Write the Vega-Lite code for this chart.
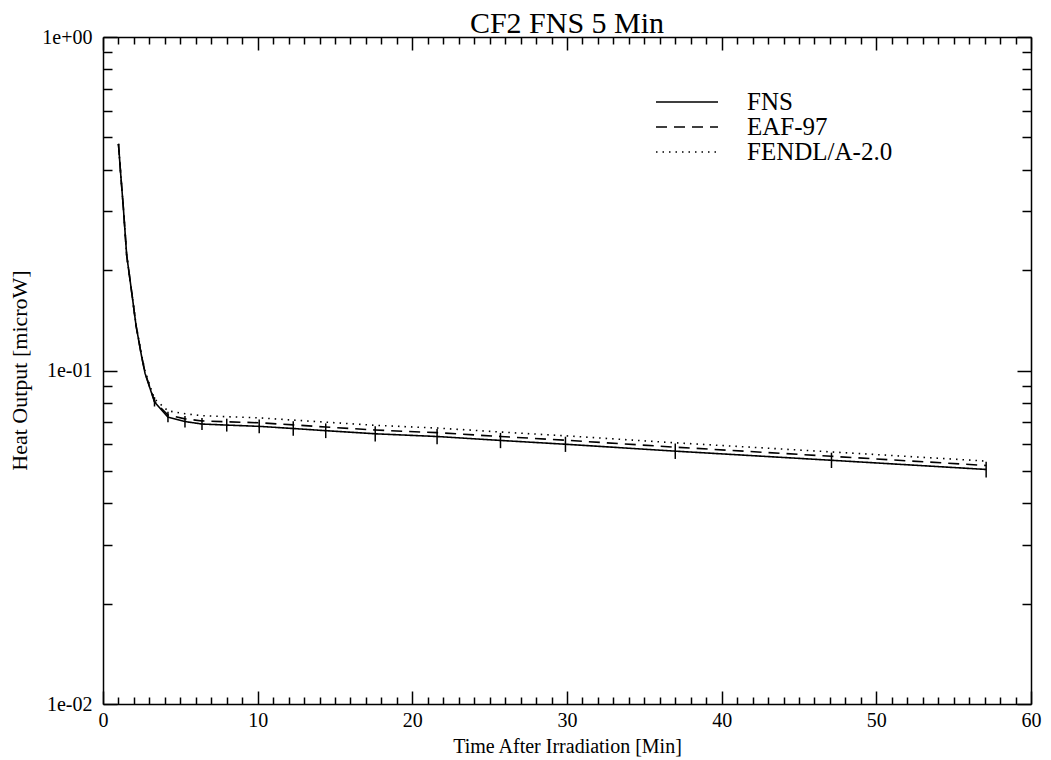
{
  "$schema": "https://vega.github.io/schema/vega-lite/v6.json",
  "width": 928,
  "height": 667,
  "autosize": {"type": "none"},
  "padding": {"left": 103, "top": 37, "right": 20, "bottom": 56},
  "background": "white",
  "title": {"text": "CF2 FNS 5 Min", "font": "Liberation Serif", "fontSize": 30, "fontWeight": "normal", "color": "black", "anchor": "middle", "frame": "group", "offset": 6, "dy": 18},
  "config": {"view": {"stroke": null}, "font": "Liberation Serif"},
  "datasets": {
    "curves": [
      {"t": 1.0, "v": 0.478, "series": "FNS"},
      {"t": 1.15, "v": 0.385, "series": "FNS"},
      {"t": 1.32, "v": 0.306, "series": "FNS"},
      {"t": 1.53, "v": 0.222, "series": "FNS"},
      {"t": 1.86, "v": 0.171, "series": "FNS"},
      {"t": 2.14, "v": 0.136, "series": "FNS"},
      {"t": 2.5, "v": 0.110, "series": "FNS"},
      {"t": 2.72, "v": 0.098, "series": "FNS"},
      {"t": 3.33, "v": 0.0805, "series": "FNS"},
      {"t": 4.2, "v": 0.0725, "series": "FNS"},
      {"t": 5.3, "v": 0.0703, "series": "FNS"},
      {"t": 6.4, "v": 0.0691, "series": "FNS"},
      {"t": 8.0, "v": 0.0686, "series": "FNS"},
      {"t": 10.1, "v": 0.0680, "series": "FNS"},
      {"t": 12.3, "v": 0.0670, "series": "FNS"},
      {"t": 14.4, "v": 0.0660, "series": "FNS"},
      {"t": 17.6, "v": 0.0646, "series": "FNS"},
      {"t": 21.6, "v": 0.0634, "series": "FNS"},
      {"t": 25.7, "v": 0.0617, "series": "FNS"},
      {"t": 29.9, "v": 0.0601, "series": "FNS"},
      {"t": 37.0, "v": 0.0573, "series": "FNS"},
      {"t": 47.1, "v": 0.0538, "series": "FNS"},
      {"t": 57.1, "v": 0.0505, "series": "FNS"},
      {"t": 1.0, "v": 0.478, "series": "EAF-97"},
      {"t": 1.15, "v": 0.385, "series": "EAF-97"},
      {"t": 1.32, "v": 0.306, "series": "EAF-97"},
      {"t": 1.53, "v": 0.222, "series": "EAF-97"},
      {"t": 1.86, "v": 0.171, "series": "EAF-97"},
      {"t": 2.14, "v": 0.136, "series": "EAF-97"},
      {"t": 2.5, "v": 0.110, "series": "EAF-97"},
      {"t": 2.72, "v": 0.0985, "series": "EAF-97"},
      {"t": 3.33, "v": 0.0808, "series": "EAF-97"},
      {"t": 4.2, "v": 0.0735, "series": "EAF-97"},
      {"t": 5.3, "v": 0.0716, "series": "EAF-97"},
      {"t": 6.4, "v": 0.0706, "series": "EAF-97"},
      {"t": 8.0, "v": 0.0702, "series": "EAF-97"},
      {"t": 10.1, "v": 0.0697, "series": "EAF-97"},
      {"t": 12.3, "v": 0.0687, "series": "EAF-97"},
      {"t": 14.4, "v": 0.0677, "series": "EAF-97"},
      {"t": 17.6, "v": 0.0663, "series": "EAF-97"},
      {"t": 21.6, "v": 0.0651, "series": "EAF-97"},
      {"t": 25.7, "v": 0.0634, "series": "EAF-97"},
      {"t": 29.9, "v": 0.0618, "series": "EAF-97"},
      {"t": 37.0, "v": 0.0589, "series": "EAF-97"},
      {"t": 47.1, "v": 0.0553, "series": "EAF-97"},
      {"t": 57.1, "v": 0.0519, "series": "EAF-97"},
      {"t": 1.0, "v": 0.478, "series": "FENDL/A-2.0"},
      {"t": 1.15, "v": 0.385, "series": "FENDL/A-2.0"},
      {"t": 1.32, "v": 0.306, "series": "FENDL/A-2.0"},
      {"t": 1.53, "v": 0.222, "series": "FENDL/A-2.0"},
      {"t": 1.86, "v": 0.171, "series": "FENDL/A-2.0"},
      {"t": 2.14, "v": 0.137, "series": "FENDL/A-2.0"},
      {"t": 2.5, "v": 0.111, "series": "FENDL/A-2.0"},
      {"t": 2.72, "v": 0.0995, "series": "FENDL/A-2.0"},
      {"t": 3.33, "v": 0.0822, "series": "FENDL/A-2.0"},
      {"t": 4.2, "v": 0.0757, "series": "FENDL/A-2.0"},
      {"t": 5.3, "v": 0.0742, "series": "FENDL/A-2.0"},
      {"t": 6.4, "v": 0.0732, "series": "FENDL/A-2.0"},
      {"t": 8.0, "v": 0.0727, "series": "FENDL/A-2.0"},
      {"t": 10.1, "v": 0.0721, "series": "FENDL/A-2.0"},
      {"t": 12.3, "v": 0.0710, "series": "FENDL/A-2.0"},
      {"t": 14.4, "v": 0.0700, "series": "FENDL/A-2.0"},
      {"t": 17.6, "v": 0.0685, "series": "FENDL/A-2.0"},
      {"t": 21.6, "v": 0.0672, "series": "FENDL/A-2.0"},
      {"t": 25.7, "v": 0.0654, "series": "FENDL/A-2.0"},
      {"t": 29.9, "v": 0.0637, "series": "FENDL/A-2.0"},
      {"t": 37.0, "v": 0.0607, "series": "FENDL/A-2.0"},
      {"t": 47.1, "v": 0.0570, "series": "FENDL/A-2.0"},
      {"t": 57.1, "v": 0.0535, "series": "FENDL/A-2.0"}
    ],
    "errs": [
      {"t": 3.33, "lo": 0.0780, "hi": 0.0832},
      {"t": 4.2, "lo": 0.0700, "hi": 0.0752},
      {"t": 5.3, "lo": 0.0675, "hi": 0.0730},
      {"t": 6.4, "lo": 0.0663, "hi": 0.0720},
      {"t": 8.0, "lo": 0.0656, "hi": 0.0717},
      {"t": 10.1, "lo": 0.0648, "hi": 0.0713},
      {"t": 12.3, "lo": 0.0637, "hi": 0.0704},
      {"t": 14.4, "lo": 0.0627, "hi": 0.0694},
      {"t": 17.6, "lo": 0.0612, "hi": 0.0680},
      {"t": 21.6, "lo": 0.0601, "hi": 0.0668},
      {"t": 25.7, "lo": 0.0585, "hi": 0.0650},
      {"t": 29.9, "lo": 0.0570, "hi": 0.0633},
      {"t": 37.0, "lo": 0.0543, "hi": 0.0604},
      {"t": 47.1, "lo": 0.0510, "hi": 0.0567},
      {"t": 57.1, "lo": 0.0478, "hi": 0.0533}
    ]
  },
  "layer": [
    {
      "data": {"name": "curves"},
      "mark": {"type": "line", "color": "black", "strokeWidth": 1.6},
      "encoding": {
        "x": {
          "field": "t", "type": "quantitative",
          "scale": {"domain": [0, 60], "nice": false, "zero": false},
          "axis": {
            "orient": "bottom", "grid": false,
            "values": [0,1,2,3,4,5,6,7,8,9,10,11,12,13,14,15,16,17,18,19,20,21,22,23,24,25,26,27,28,29,30,31,32,33,34,35,36,37,38,39,40,41,42,43,44,45,46,47,48,49,50,51,52,53,54,55,56,57,58,59,60],
            "tickSize": {"condition": {"test": "datum.value % 10 === 0", "value": -13}, "value": -7},
            "labelExpr": "datum.value % 10 === 0 ? datum.label : ''",
            "labelOverlap": false, "labelFlush": false,
            "domainColor": "black", "domainWidth": 1.5, "tickColor": "black", "tickWidth": 1.5,
            "labelFont": "Liberation Serif", "labelFontSize": 20, "labelColor": "black", "labelPadding": 19,
            "title": "Time After Irradiation [Min]", "titleFont": "Liberation Serif", "titleFontSize": 20, "titleFontWeight": "normal", "titleColor": "black",
            "titleX": 464, "titleY": 42, "titleBaseline": "middle", "titleAlign": "center"
          }
        },
        "y": {
          "field": "v", "type": "quantitative",
          "scale": {"type": "log", "domain": [0.01, 1], "nice": false},
          "axis": {
            "orient": "left", "grid": false,
            "values": [0.01,0.02,0.03,0.04,0.05,0.06,0.07,0.08,0.09,0.1,0.2,0.3,0.4,0.5,0.6,0.7,0.8,0.9,1],
            "tickSize": {"condition": {"test": "datum.value == 1 || datum.value == 0.1 || datum.value == 0.01", "value": -14}, "value": -9},
            "labelExpr": "datum.value == 1 ? '1e+00' : datum.value == 0.1 ? '1e-01' : datum.value == 0.01 ? '1e-02' : ''",
            "labelOverlap": false, "labelFlush": false,
            "domainColor": "black", "domainWidth": 1.5, "tickColor": "black", "tickWidth": 1.5,
            "labelFont": "Liberation Serif", "labelFontSize": 20, "labelColor": "black", "labelPadding": 25,
            "title": "Heat Output [microW]", "titleFont": "Liberation Serif", "titleFontSize": 22, "titleFontWeight": "normal", "titleColor": "black",
            "titleX": -84, "titleY": 333, "titleAngle": 270, "titleBaseline": "middle", "titleAlign": "center"
          }
        },
        "strokeDash": {
          "field": "series", "type": "nominal",
          "scale": {"domain": ["FNS", "EAF-97", "FENDL/A-2.0"], "range": [[1, 0], [11, 7], [1.5, 5]]},
          "legend": {
            "orient": "none", "legendX": 552, "legendY": 54, "title": null,
            "symbolType": "stroke", "symbolSize": 3844, "symbolStrokeWidth": 1.5, "symbolStrokeColor": "black",
            "labelFont": "Liberation Serif", "labelFontSize": 25, "labelColor": "black", "labelOffset": 28,
            "clipHeight": 22, "rowPadding": 0, "padding": 0
          }
        }
      }
    },
    {
      "data": {"name": "errs"},
      "mark": {"type": "rule", "color": "black", "strokeWidth": 1.5},
      "encoding": {
        "x": {
          "field": "t", "type": "quantitative",
          "axis": {
            "orient": "top", "grid": false, "title": null,
            "values": [0,1,2,3,4,5,6,7,8,9,10,11,12,13,14,15,16,17,18,19,20,21,22,23,24,25,26,27,28,29,30,31,32,33,34,35,36,37,38,39,40,41,42,43,44,45,46,47,48,49,50,51,52,53,54,55,56,57,58,59,60],
            "tickSize": {"condition": {"test": "datum.value % 10 === 0", "value": -13}, "value": -7},
            "labels": false,
            "domainColor": "black", "domainWidth": 1.5, "tickColor": "black", "tickWidth": 1.5
          }
        },
        "y": {
          "field": "lo", "type": "quantitative",
          "axis": {
            "orient": "right", "grid": false, "title": null,
            "values": [0.01,0.02,0.03,0.04,0.05,0.06,0.07,0.08,0.09,0.1,0.2,0.3,0.4,0.5,0.6,0.7,0.8,0.9,1],
            "tickSize": {"condition": {"test": "datum.value == 1 || datum.value == 0.1 || datum.value == 0.01", "value": -14}, "value": -9},
            "labels": false,
            "domainColor": "black", "domainWidth": 1.5, "tickColor": "black", "tickWidth": 1.5
          }
        },
        "y2": {"field": "hi"}
      }
    }
  ],
  "resolve": {"axis": {"x": "independent", "y": "independent"}}
}
